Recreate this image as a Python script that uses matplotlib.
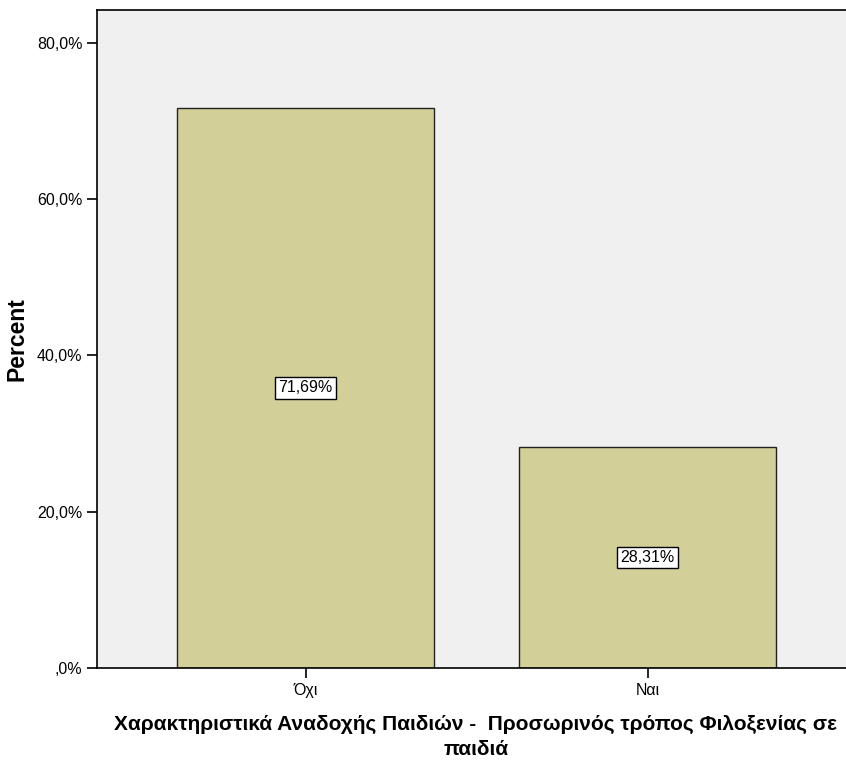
import matplotlib
matplotlib.use("Agg")
import matplotlib.pyplot as plt

plt.rcParams['font.family'] = ['Liberation Sans', 'DejaVu Sans']

categories = ["Όχι", "Ναι"]
percents = [71.69, 28.31]
value_labels = ["71,69%", "28,31%"]
yticks = [0, 20, 40, 60, 80]
ytick_labels = [",0%", "20,0%", "40,0%", "60,0%", "80,0%"]

fig = plt.figure(figsize=(8.46, 7.63), dpi=100)
ax = fig.add_axes([97/846, 95/763, 1 - 97/846, 658/763])
ax.set_facecolor("#f0f0f0")

x = range(len(categories))
ax.bar(x, percents, width=0.75, color="#d3cf98", edgecolor="#222222", linewidth=1)

for i, (p, lab) in enumerate(zip(percents, value_labels)):
    ax.text(i, p / 2, lab, ha="center", va="center", fontsize=11.5,
            bbox=dict(boxstyle="square,pad=0.2", facecolor="white", edgecolor="black", linewidth=1))

ax.set_xlim(-0.61, 1.58)
ax.set_ylim(0, 84.2)
ax.set_xticks(list(x))
ax.set_xticklabels(categories, fontsize=11.5)
ax.set_yticks(yticks)
ax.set_yticklabels(ytick_labels, fontsize=11.5)
ax.tick_params(axis="both", length=7, width=1.2, color="black")

ax.spines["right"].set_visible(False)
for s in ["left", "bottom", "top"]:
    ax.spines[s].set_linewidth(1.2)

ax.set_ylabel("Percent", fontsize=16.5, fontweight="bold")
ax.yaxis.set_label_coords(-0.092, 0.5)

ax.text(0.506, -0.072,
        "Χαρακτηριστικά Αναδοχής Παιδιών -  Προσωρινός τρόπος Φιλοξενίας σε\nπαιδιά",
        transform=ax.transAxes, ha="center", va="top", multialignment="center",
        fontsize=15, fontweight="bold", linespacing=1.35)

fig.savefig("out.png", dpi=100)
